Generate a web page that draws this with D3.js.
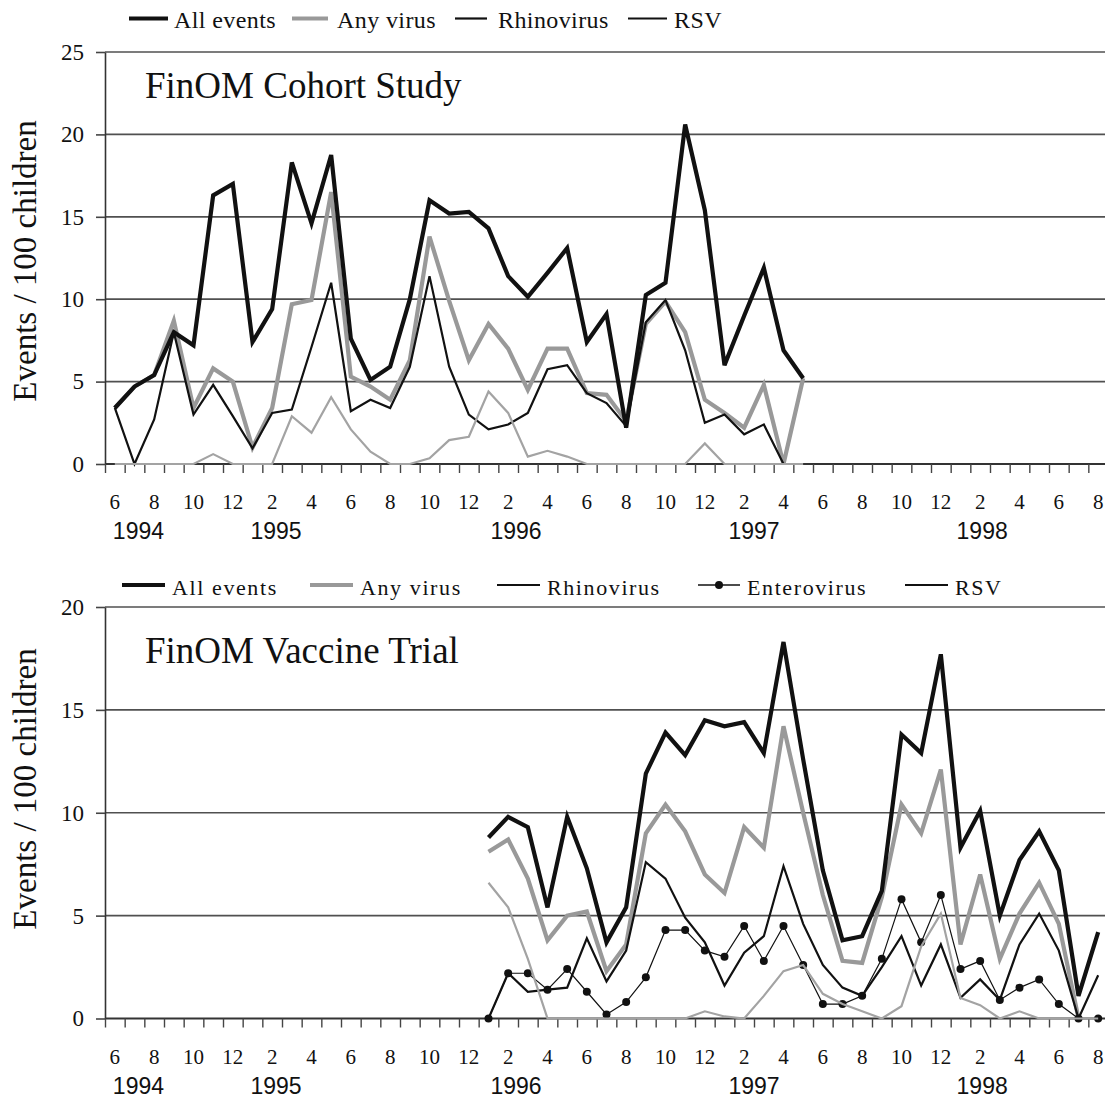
<!DOCTYPE html>
<html>
<head>
	<title> FinOM events </title>
	<script src="https://d3js.org/d3.v7.min.js"></script>
	<style>
		body { margin: 0; background: white; }
		svg { display: block; }
	</style>
</head>
<body>
	<div id="vis">
		<svg></svg>
	</div>

	<script type="text/javascript">

		// month of each category, June 1994 .. August 1998
		const months = [6, 7, 8, 9, 10, 11, 12,
			1, 2, 3, 4, 5, 6, 7, 8, 9, 10, 11, 12,
			1, 2, 3, 4, 5, 6, 7, 8, 9, 10, 11, 12,
			1, 2, 3, 4, 5, 6, 7, 8, 9, 10, 11, 12,
			1, 2, 3, 4, 5, 6, 7, 8];
		const years = ["1994", "1995", "1996", "1997", "1998"];
		// where the year labels sit, in months from the left edge of the axis
		const yearAt = [1.7, 8.7, 20.9, 33.0, 44.6];

		// FinOM Cohort Study, first value = June 1994
		const cohortStart = 0;
		const cohortAll = [3.4, 4.7, 5.4, 8.0, 7.2, 16.3, 17.0, 7.4, 9.4, 18.3, 14.6, 18.75, 7.6, 5.1, 5.9, 10.0, 16.0, 15.2,
			15.3, 14.3, 11.4, 10.15, 11.6, 13.1, 7.4, 9.1, 2.2, 10.25, 11.0, 20.6, 15.4, 6.0, 9.0, 11.9, 6.9, 5.2];
		const cohortVirus = [3.4, 4.7, 5.4, 8.7, 3.4, 5.8, 5.0, 1.0, 3.4, 9.7, 9.95, 16.5, 5.3, 4.7, 3.9, 6.3, 13.8, 9.9,
			6.3, 8.5, 7.0, 4.5, 7.0, 7.0, 4.3, 4.2, 2.6, 8.5, 9.85, 8.0, 3.9, 3.1, 2.2, 4.8, 0, 5.2];
		const cohortRhino = [3.4, 0, 2.7, 8.0, 3.0, 4.8, 2.9, 0.95, 3.1, 3.3, 7.1, 11.0, 3.2, 3.9, 3.4, 5.9, 11.4, 5.9,
			3.0, 2.1, 2.4, 3.1, 5.75, 6.0, 4.3, 3.7, 2.3, 8.6, 9.95, 6.9, 2.5, 3.0, 1.8, 2.4, 0, 0];
		const cohortRSV = [0, 0, 0, 0, 0, 0.6, 0, 0, 0, 2.9, 1.9, 4.05, 2.1, 0.75, 0, 0, 0.35, 1.45,
			1.65, 4.4, 3.1, 0.45, 0.8, 0.45, 0, 0, 0, 0, 0, 0, 1.25, 0, 0, 0, 0, 0];

		// FinOM Vaccine Trial, first value = January 1996
		const vaccineStart = 19;
		const vaccineAll = [8.8, 9.8, 9.3, 5.4, 9.8, 7.3, 3.7, 5.4, 11.9, 13.9, 12.8, 14.5, 14.2, 14.4, 12.9, 18.3,
			12.6, 7.2, 3.8, 4.0, 6.2, 13.8, 12.9, 17.7, 8.3, 10.1, 5.0, 7.7, 9.1, 7.2, 1.1, 4.2];
		const vaccineVirus = [8.1, 8.7, 6.8, 3.8, 5.0, 5.2, 2.3, 3.6, 9.0, 10.4, 9.1, 7.0, 6.1, 9.3, 8.3, 14.2,
			10.0, 6.0, 2.8, 2.7, 5.9, 10.4, 9.0, 12.1, 3.6, 7.0, 2.9, 5.1, 6.6, 4.6, 0, null];
		const vaccineRhino = [0, 2.2, 1.3, 1.4, 1.5, 3.9, 1.8, 3.3, 7.6, 6.8, 4.9, 3.7, 1.6, 3.2, 4.0, 7.4,
			4.6, 2.6, 1.5, 1.1, 2.5, 4.0, 1.6, 3.6, 1.0, 1.9, 0.9, 3.6, 5.1, 3.3, 0, 2.1];
		const vaccineEntero = [0, 2.2, 2.2, 1.4, 2.4, 1.3, 0.2, 0.8, 2.0, 4.3, 4.3, 3.3, 3.0, 4.5, 2.8, 4.5,
			2.6, 0.7, 0.7, 1.1, 2.9, 5.8, 3.7, 6.0, 2.4, 2.8, 0.9, 1.5, 1.9, 0.7, 0, 0];
		const vaccineRSV = [6.6, 5.4, 2.9, 0, 0, 0, 0, 0, 0, 0, 0, 0.35, 0.1, 0, 1.1, 2.3,
			2.6, 1.2, 0.7, 0.35, 0, 0.6, 3.5, 5.1, 1.0, 0.65, 0, 0.35, 0, 0, 0, 0];

		const w = 1105;
		const h = 1097;
		const left_border = 105;
		const right_end = 1108;
		const serif = "'Liberation Serif', 'Times New Roman', serif";
		const sans = "'Liberation Sans', Arial, sans-serif";

		const svg = d3.select("svg").attr("width", w).attr("height", h);

		// band = one month, linear = month boundaries (ticks, year labels)
		const x_band = d3.scaleBand().domain(d3.range(months.length)).range([left_border, right_end]);
		const x_month = d3.scaleLinear().domain([0, months.length]).range([left_border, right_end]);
		const xc = i => x_band(i) + x_band.bandwidth() / 2;

		const styles = {
			all: { color: "#111", width: 4.2 },
			virus: { color: "#999", width: 4.2 },
			rhino: { color: "#111", width: 2.2 },
			entero: { color: "#111", width: 1.2 },
			rsv: { color: "#a3a3a3", width: 2.2 }
		};

		function drawPanel(p) {
			const g = svg.append("g");
			const y = d3.scaleLinear().domain([0, p.ymax]).range([p.bottom, p.top]);
			const yticks = d3.range(0, p.ymax + 1, 5);

			// horizontal grid lines
			g.append("g").selectAll("line").data(yticks.filter(t => t > 0)).join("line")
				.attr("x1", left_border).attr("x2", w)
				.attr("y1", d => y(d)).attr("y2", d => y(d))
				.style("stroke", "#505050").style("stroke-width", 1.7);

			// y axis
			const yaxis = d3.axisLeft(y).tickValues(yticks).tickSize(9).tickSizeOuter(0).tickPadding(12);
			const ya = g.append("g").attr("transform", "translate(" + left_border + ",0)").call(yaxis);
			ya.select(".domain").style("stroke", "#333").style("stroke-width", 1.6);
			ya.selectAll(".tick line").style("stroke", "#444").style("stroke-width", 1.6);
			ya.selectAll(".tick text").style("font-family", serif).style("font-size", "23px").style("fill", "#111");

			// x axis: tick marks at month boundaries
			const xaxis = d3.axisBottom(x_month).tickValues(d3.range(months.length + 1)).tickSize(9).tickSizeOuter(0).tickFormat("");
			const xa = g.append("g").attr("transform", "translate(0," + p.bottom + ")").call(xaxis);
			xa.select(".domain").attr("d", "M" + left_border + ",0H" + w).style("stroke", "#333").style("stroke-width", 1.8);
			xa.selectAll(".tick line").style("stroke", "#444").style("stroke-width", 1.4);

			// month labels (every second month)
			g.append("g").selectAll("text").data(d3.range(months.length).filter(i => months[i] % 2 == 0)).join("text")
				.attr("x", d => xc(d)).attr("y", p.bottom + 45)
				.attr("text-anchor", "middle")
				.style("font-family", serif).style("font-size", "21px").style("fill", "#111")
				.text(d => months[d]);

			// year labels
			g.append("g").selectAll("text").data(years).join("text")
				.attr("x", (d, i) => x_month(yearAt[i])).attr("y", p.bottom + 75)
				.attr("text-anchor", "middle")
				.style("font-family", sans).style("font-size", "23px").style("fill", "#111")
				.text(d => d);

			// y title
			g.append("text")
				.attr("transform", "translate(36," + p.ymid + ") rotate(-90)")
				.attr("text-anchor", "middle")
				.style("font-family", serif).style("font-size", "33px").style("fill", "#111")
				.text("Events / 100 children");

			// panel title
			g.append("text").attr("x", 145).attr("y", p.titleY)
				.style("font-family", serif).style("font-size", "37px").style("fill", "#111")
				.text(p.title);

			// lines (drawn in p.draw order so "All events" covers "Any virus" where they meet)
			const line = d3.line()
				.defined(d => d.v !== null)
				.x(d => xc(d.i)).y(d => y(d.v));

			p.series.forEach(function(s) {
				const pts = s.values.map((v, k) => ({ i: p.start + k, v: v }));
				const st = styles[s.key];
				g.append("path").datum(pts)
					.attr("d", line)
					.style("fill", "none")
					.style("stroke", st.color)
					.style("stroke-width", st.width)
					.style("stroke-linejoin", "miter")
					.style("stroke-miterlimit", 4);
				if (s.dots) {
					g.append("g").selectAll("circle").data(pts.filter(d => d.v !== null)).join("circle")
						.attr("cx", d => xc(d.i)).attr("cy", d => y(d.v)).attr("r", 4)
						.style("fill", "#111");
				}
			});

			// legend (the RSV key is shown dark in the original)
			const lg = g.append("g");
			p.legend.forEach(function(l) {
				const st = styles[l.key];
				const col = l.key == "rsv" ? "#111" : st.color;
				lg.append("line").attr("x1", l.x1).attr("x2", l.x2).attr("y1", p.legendY).attr("y2", p.legendY)
					.style("stroke", col).style("stroke-width", l.key == "entero" ? 1.6 : st.width);
				if (l.key == "entero") {
					lg.append("circle").attr("cx", (l.x1 + l.x2) / 2).attr("cy", p.legendY).attr("r", 4).style("fill", "#111");
				}
				lg.append("text").attr("x", l.tx).attr("y", p.legendY + 9.5)
					.style("font-family", serif).style("font-size", p.legendSize).style("letter-spacing", p.legendSpacing)
					.style("fill", "#111")
					.text(l.label);
			});
		}

		drawPanel({
			title: "FinOM Cohort Study", titleY: 98,
			ymax: 25, top: 52, bottom: 464, ymid: 261,
			start: cohortStart,
			series: [
				{ key: "virus", values: cohortVirus },
				{ key: "all", values: cohortAll },
				{ key: "rhino", values: cohortRhino },
				{ key: "rsv", values: cohortRSV }
			],
			legendY: 18.5, legendSize: "24px", legendSpacing: "0.4px",
			legend: [
				{ key: "all", label: "All events", x1: 129, x2: 168, tx: 174 },
				{ key: "virus", label: "Any virus", x1: 292, x2: 328, tx: 337 },
				{ key: "rhino", label: "Rhinovirus", x1: 455, x2: 487, tx: 498 },
				{ key: "rsv", label: "RSV", x1: 628, x2: 667, tx: 674 }
			]
		});

		drawPanel({
			title: "FinOM Vaccine Trial", titleY: 663,
			ymax: 20, top: 607, bottom: 1018.5, ymid: 789,
			start: vaccineStart,
			series: [
				{ key: "virus", values: vaccineVirus },
				{ key: "all", values: vaccineAll },
				{ key: "rhino", values: vaccineRhino },
				{ key: "entero", values: vaccineEntero, dots: true },
				{ key: "rsv", values: vaccineRSV }
			],
			legendY: 585, legendSize: "22px", legendSpacing: "1.6px",
			legend: [
				{ key: "all", label: "All events", x1: 122, x2: 165, tx: 172 },
				{ key: "virus", label: "Any virus", x1: 310, x2: 353, tx: 360 },
				{ key: "rhino", label: "Rhinovirus", x1: 497, x2: 540, tx: 547 },
				{ key: "entero", label: "Enterovirus", x1: 698, x2: 740, tx: 747 },
				{ key: "rsv", label: "RSV", x1: 905, x2: 948, tx: 955 }
			]
		});

	</script>
</body>
</html>
